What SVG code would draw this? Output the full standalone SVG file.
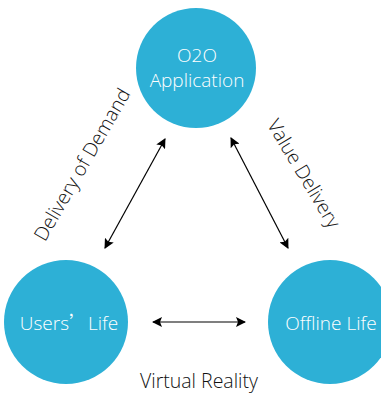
<svg xmlns="http://www.w3.org/2000/svg" width="381" height="394" viewBox="0 0 381 394">
<defs>
<marker id="ah" viewBox="0 0 10 10" refX="9" refY="5" markerWidth="10" markerHeight="10" markerUnits="userSpaceOnUse" orient="auto-start-reverse">
<path d="M0,0 L10,5 L0,10 L2,5 Z" fill="#000"/>
</marker>
<style>
.c{fill:#2DB0D6}
.t{fill:#fff;font-family:"Open Sans","Liberation Sans",sans-serif;font-weight:300;font-size:19px;text-anchor:middle}
.l{fill:#111;font-family:"Open Sans","Liberation Sans",sans-serif;font-weight:300;font-size:19.5px;text-anchor:middle}
.a{stroke:#000;stroke-width:1.2;fill:none;marker-start:url(#ah);marker-end:url(#ah)}
.cjk{font-family:"Noto Sans CJK SC",sans-serif}
</style>
</defs>
<rect width="381" height="394" fill="#fff"/>
<g id="o2o">
<circle class="c" cx="196" cy="68" r="60"/>
<text class="t" x="197" y="62">O2O</text>
<text class="t" x="197" y="87">Application</text>
</g>
<g id="users">
<circle class="c" cx="66" cy="322" r="62"/>
<text class="t" x="69" y="330">Users<tspan class="cjk">’</tspan>Life</text>
</g>
<g id="offline">
<circle class="c" cx="330" cy="322" r="62"/>
<text class="t" x="331" y="330">Offline Life</text>
</g>
<g id="connectors">
<line class="a" x1="105" y1="248" x2="165" y2="139"/>
<line class="a" x1="231" y1="138" x2="288" y2="248"/>
<line class="a" x1="153" y1="322" x2="245" y2="322"/>
</g>
<g id="labels">
<text class="l" transform="translate(88,168) rotate(-60)">Delivery of Demand</text>
<text class="l" transform="translate(298,177) rotate(59)">Value Delivery</text>
<text class="l" x="199" y="387.5">Virtual Reality</text>
</g>
</svg>
